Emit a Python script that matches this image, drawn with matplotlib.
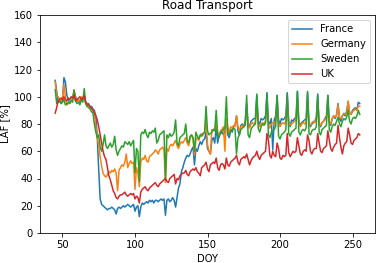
import numpy as np
import matplotlib
matplotlib.use("Agg")
import matplotlib.pyplot as plt

doy = np.arange(45, 256)

france = [
    112, 104, 96, 97, 95, 97, 114,
    111, 101, 98, 96, 97, 99, 104,
    100, 97, 98, 96, 99, 98, 101,
    95, 93, 95, 92, 93, 91, 90,
    86, 70, 46, 25, 21, 20, 19,
    18, 17, 18, 18, 19, 18, 17,
    14, 18, 19, 18, 19, 20, 19,
    20, 21, 20, 19, 20, 21, 16,
    19, 20, 12, 19, 22, 21, 22,
    23, 22, 24, 23, 24, 22, 24,
    24, 23, 24, 25, 24, 25, 13,
    24, 25, 23, 24, 26, 24, 19,
    26, 33, 36, 45, 48, 52, 55,
    57, 56, 58, 61, 63, 50, 62,
    60, 64, 67, 65, 68, 69, 74,
    62, 60, 58, 68, 70, 66, 78,
    66, 72, 73, 74, 72, 75, 84,
    72, 70, 76, 74, 78, 79, 86,
    75, 72, 79, 80, 78, 82, 95,
    80, 78, 82, 83, 84, 84, 101,
    82, 80, 84, 83, 84, 86, 103,
    82, 80, 84, 61, 83, 86, 101,
    83, 80, 84, 83, 84, 86, 103,
    82, 78, 83, 82, 84, 85, 104,
    82, 79, 81, 82, 83, 84, 103,
    81, 78, 80, 81, 82, 85, 102,
    80, 78, 81, 82, 84, 86, 101,
    81, 79, 84, 86, 84, 87, 95,
    84, 82, 86, 87, 86, 90, 96,
    88, 87, 90, 91, 92, 90, 96,
    95,
]

germany = [
    111, 101, 100, 98, 97, 100, 109,
    100, 94, 95, 96, 97, 99, 105,
    99, 96, 98, 97, 100, 98, 101,
    96, 93, 94, 92, 91, 90, 88,
    78, 70, 64, 56, 49, 44, 42,
    41, 43, 45, 44, 46, 45, 47,
    44, 31, 46, 48, 50, 49, 52,
    58, 48, 51, 53, 51, 52, 32,
    48, 44, 34, 52, 55, 54, 57,
    53, 52, 56, 57, 58, 59, 61,
    60, 58, 61, 62, 63, 61, 37,
    62, 60, 64, 65, 64, 66, 68,
    64, 62, 65, 67, 66, 68, 70,
    66, 64, 69, 72, 70, 57, 68,
    70, 68, 72, 73, 72, 74, 83,
    65, 60, 58, 76, 75, 77, 80,
    74, 72, 75, 76, 78, 60, 84,
    77, 74, 78, 77, 79, 78, 86,
    78, 75, 78, 79, 78, 80, 90,
    79, 77, 80, 81, 80, 81, 92,
    80, 78, 80, 81, 80, 82, 94,
    80, 77, 80, 81, 80, 82, 95,
    80, 78, 80, 81, 80, 82, 96,
    81, 79, 80, 81, 82, 83, 97,
    81, 78, 80, 81, 80, 82, 96,
    80, 79, 81, 82, 81, 83, 95,
    81, 79, 81, 82, 83, 84, 93,
    82, 80, 84, 86, 85, 86, 94,
    85, 84, 86, 88, 87, 88, 97,
    88, 87, 89, 90, 91, 90, 93,
    93,
]

sweden = [
    105, 95, 96, 97, 95, 96, 98,
    94, 95, 96, 95, 97, 96, 105,
    97, 95, 96, 94, 98, 96, 106,
    95, 93, 92, 91, 89, 88, 80,
    74, 70, 72, 63, 60, 65, 72,
    64, 62, 64, 66, 63, 65, 71,
    61, 57, 60, 62, 64, 63, 67,
    66, 65, 67, 64, 66, 68, 44,
    62, 60, 38, 72, 74, 73, 76,
    72, 70, 74, 73, 75, 74, 77,
    66, 68, 72, 73, 74, 75, 39,
    72, 70, 73, 71, 72, 74, 83,
    66, 64, 70, 71, 72, 73, 80,
    68, 66, 71, 72, 70, 60, 74,
    71, 69, 72, 71, 73, 74, 93,
    75, 72, 73, 74, 76, 75, 90,
    72, 70, 74, 75, 76, 77, 100,
    74, 72, 75, 76, 77, 76, 58,
    70, 72, 76, 77, 78, 79, 101,
    72, 70, 76, 78, 79, 80, 102,
    77, 74, 78, 80, 79, 81, 102,
    72, 70, 74, 75, 76, 78, 101,
    71, 69, 72, 73, 74, 76, 102,
    73, 71, 74, 75, 76, 77, 104,
    74, 72, 75, 76, 75, 77, 104,
    73, 72, 75, 76, 76, 78, 101,
    74, 72, 76, 77, 78, 79, 101,
    76, 74, 78, 80, 79, 82, 85,
    80, 78, 82, 84, 83, 85, 90,
    82, 80, 84, 85, 84, 86, 90,
    87,
]

uk = [
    88, 92, 97, 98, 99, 98, 100,
    98, 97, 99, 98, 100, 99, 101,
    97, 98, 99, 100, 98, 99, 101,
    96, 95, 94, 93, 92, 90, 88,
    86, 83, 78, 72, 66, 60, 56,
    54, 48, 42, 39, 35, 31, 29,
    26, 25, 27, 28, 28, 29, 30,
    28, 27, 28, 29, 28, 29, 25,
    27, 26, 22, 30, 32, 33, 34,
    32, 31, 33, 34, 35, 36, 37,
    35, 34, 36, 37, 38, 39, 40,
    38, 37, 40, 41, 42, 43, 36,
    40, 39, 42, 43, 44, 44, 46,
    43, 42, 45, 46, 47, 46, 48,
    45, 44, 42, 48, 49, 50, 52,
    47, 45, 50, 51, 52, 51, 55,
    48, 46, 50, 51, 50, 47, 55,
    50, 49, 52, 53, 54, 55, 57,
    52, 50, 54, 55, 56, 55, 58,
    54, 50, 53, 55, 56, 57, 60,
    56, 54, 57, 58, 59, 60, 73,
    68, 57, 55, 60, 57, 56, 66,
    62, 55, 54, 57, 56, 57, 73,
    59, 56, 58, 60, 59, 60, 70,
    64, 58, 57, 60, 61, 60, 72,
    68, 60, 58, 61, 62, 62, 73,
    66, 60, 59, 62, 63, 64, 75,
    68, 62, 60, 63, 65, 66, 79,
    70, 63, 58, 64, 66, 67, 77,
    72, 66, 65, 68, 69, 70, 73,
    72,
]

series = [("France", france), ("Germany", germany), ("Sweden", sweden), ("UK", uk)]

fig = plt.figure(figsize=(376 / 72, 263 / 72), dpi=72)
ax = fig.add_axes([40 / 376, 30 / 263, 335 / 376, 218 / 263])
for name, vals in series:
    ax.plot(doy, vals, label=name, linewidth=1.5)
ax.set_ylim(0, 160)
ax.set_xticks([50, 100, 150, 200, 250])
ax.set_title("Road Transport")
ax.set_xlabel("DOY")
ax.set_ylabel("LAF [%]")
ax.legend(loc="upper right")
fig.savefig("out.png", dpi=72)
